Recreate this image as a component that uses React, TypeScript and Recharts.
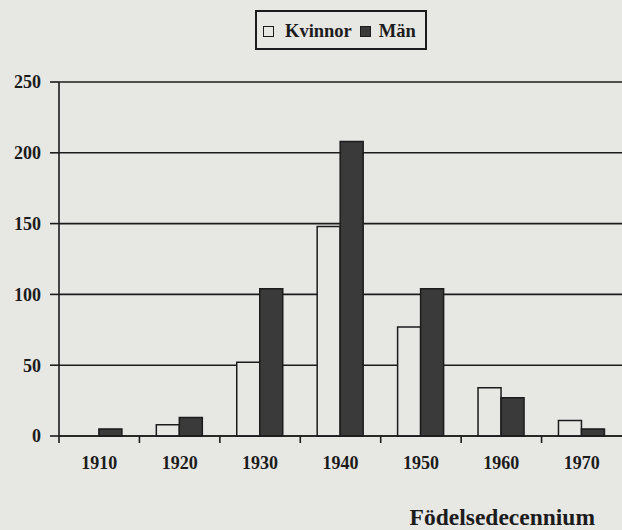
import React from "react";
import {
  BarChart,
  Bar,
  XAxis,
  YAxis,
  CartesianGrid,
  Legend,
} from "recharts";

const decades = ["1910", "1920", "1930", "1940", "1950", "1960", "1970"];
const kvinnor = [0, 8, 52, 148, 77, 34, 11];
const man = [5, 13, 104, 208, 104, 27, 5];
const yTicks = [0, 50, 100, 150, 200, 250];

const data = decades.map((d, i) => ({
  decade: d,
  Kvinnor: kvinnor[i],
  Män: man[i],
}));

const font = "'Liberation Serif', 'Times New Roman', serif";
const ink = "#1c1c1c";
const bg = "#e7e7e4";

// category label at the band centre, tick mark at the band's left edge
function DecadeTick(props: any) {
  const { x, y, payload } = props;
  const half = payload && typeof payload.offset === "number" ? payload.offset : 0;
  return (
    <g>
      <line x1={x - half} x2={x - half} y1={y} y2={y + 7} stroke={ink} strokeWidth={1.6} />
      <text
        x={x}
        y={y + 20}
        dy="0.71em"
        textAnchor="middle"
        fill={ink}
        fontFamily={font}
        fontWeight="bold"
        fontSize={18}
      >
        {payload.value}
      </text>
    </g>
  );
}

function LegendBox() {
  const item = (fill: string, label: string, inner: number, gap: number) => (
    <span style={{ display: "inline-flex", alignItems: "center", marginRight: gap }}>
      <span
        style={{
          display: "inline-block",
          width: 11,
          height: 11,
          boxSizing: "border-box",
          border: `1.5px solid ${ink}`,
          background: fill,
          marginRight: inner,
        }}
      />
      {label}
    </span>
  );
  return (
    <div
      style={{
        border: `2px solid ${ink}`,
        padding: "7px 3px 5px 6px",
        fontFamily: font,
        fontWeight: "bold",
        fontSize: 18.5,
        color: ink,
        display: "inline-flex",
        lineHeight: "24px",
        boxSizing: "border-box",
        width: 172,
        height: 40,
      }}
    >
      {item(bg, "Kvinnor", 11, 8)}
      {item("#3a3a3a", "Män", 8, 0)}
    </div>
  );
}

export default function App() {
  return (
    <div
      style={{
        position: "fixed",
        top: 0,
        left: 0,
        width: 622,
        height: 530,
        background: bg,
        overflow: "hidden",
      }}
    >
      <BarChart
        width={622}
        height={530}
        data={data}
        margin={{ top: 82, right: 0, left: 0, bottom: 0 }}
        barGap={0}
        barCategoryGap="21%"
      >
        <CartesianGrid vertical={false} stroke={ink} strokeWidth={1.6} />
        <XAxis
          dataKey="decade"
          height={94}
          tickSize={0}
          tickMargin={0}
          axisLine={{ stroke: ink, strokeWidth: 1.6 }}
          tickLine={false}
          tick={<DecadeTick />}
          label={{
            value: "Födelsedecennium",
            position: "insideBottomRight",
            offset: 27,
            dy: 22,
            fill: ink,
            fontFamily: font,
            fontWeight: "bold",
            fontSize: 23.5,
          }}
        />
        <YAxis
          width={59}
          domain={[0, 250]}
          ticks={yTicks}
          tickSize={9}
          tickMargin={9}
          axisLine={{ stroke: ink, strokeWidth: 1.6 }}
          tickLine={{ stroke: ink, strokeWidth: 1.6 }}
          tick={{ fill: ink, fontFamily: font, fontWeight: "bold", fontSize: 18 }}
        />
        <Legend
          layout="horizontal"
          align="center"
          verticalAlign="middle"
          wrapperStyle={{ top: 10, left: 255, width: 172, height: 40 }}
          content={() => <LegendBox />}
        />
        <Bar
          dataKey="Kvinnor"
          fill={bg}
          stroke={ink}
          strokeWidth={1.5}
          isAnimationActive={false}
        />
        <Bar
          dataKey="Män"
          fill="#3a3a3a"
          stroke={ink}
          strokeWidth={1.5}
          isAnimationActive={false}
        />
      </BarChart>
    </div>
  );
}
